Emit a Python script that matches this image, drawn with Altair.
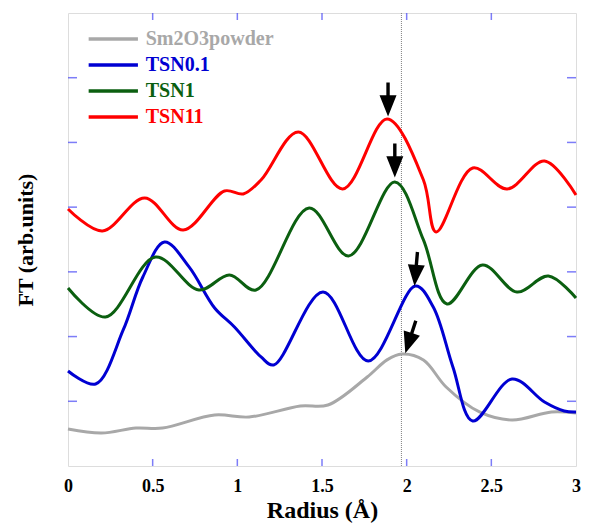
import altair as alt
import pandas as pd

# ---------------- data ----------------
series_names = ["Sm2O3powder", "TSN0.1", "TSN1", "TSN11"]
series_colors = ["#a8a8a8", "#0000d2", "#0b5f10", "#ff0000"]

gray_x = [0.0, 0.198, 0.401, 0.558, 0.866, 1.070, 1.372, 1.535, 1.767, 1.884, 1.971, 2.099, 2.233, 2.430, 2.622, 2.855, 3.0]
gray_y = [0.572, 0.510, 0.587, 0.587, 0.788, 0.757, 0.927, 0.943, 1.376, 1.640, 1.731, 1.638, 1.221, 0.835, 0.711, 0.835, 0.819]

blue_x = [0.0, 0.163, 0.326, 0.442, 0.570, 0.715, 0.866, 0.983, 1.140, 1.215, 1.506, 1.773, 2.052, 2.157, 2.273, 2.390, 2.622, 2.814, 2.930, 3.0]
blue_y = [1.468, 1.267, 2.102, 2.921, 3.462, 3.076, 2.442, 2.148, 1.685, 1.561, 2.689, 1.623, 2.782, 2.457, 1.530, 0.696, 1.345, 0.989, 0.850, 0.835]

green_x = [0.0, 0.221, 0.517, 0.773, 0.953, 1.110, 1.424, 1.657, 1.930, 2.099, 2.238, 2.448, 2.651, 2.837, 3.0]
green_y = [2.751, 2.303, 3.230, 2.720, 2.952, 2.720, 3.988, 3.246, 4.389, 3.493, 2.504, 3.107, 2.689, 2.937, 2.597]

red_x = [0.0, 0.203, 0.453, 0.680, 0.924, 1.035, 1.140, 1.360, 1.622, 1.884, 2.099, 2.174, 2.390, 2.593, 2.814, 3.0]
red_y = [3.972, 3.632, 4.142, 3.648, 4.250, 4.204, 4.420, 5.162, 4.281, 5.363, 4.420, 3.617, 4.606, 4.281, 4.714, 4.189]

# arrows (centre of each arrow in data units) and their tilt
arrow_x = [1.890, 1.930, 2.055, 2.023]
arrow_y = [5.665, 4.722, 3.045, 1.994]
arrow_angle = [0, 0, 5, 18]

ref_line_x = [1.969]

x_tick_values = [0, 0.5, 1, 1.5, 2, 2.5, 3]
x_inner_ticks = [0.5, 1, 1.5, 2, 2.5]
y_inner_ticks = [1, 2, 3, 4, 5, 6]

# ---------------- build tables ----------------
rows = []
for name, xs, ys in zip(series_names,
                        [gray_x, blue_x, green_x, red_x],
                        [gray_y, blue_y, green_y, red_y]):
    for i, (xv, yv) in enumerate(zip(xs, ys)):
        rows.append({"series": name, "x": xv, "y": yv, "order": i})
curves = pd.DataFrame(rows)

arrows = pd.DataFrame({"x": arrow_x, "y": arrow_y, "angle": arrow_angle})
vline = pd.DataFrame({"x": ref_line_x})

leg_top, leg_step = 6.60, 0.402
legend = pd.DataFrame({
    "series": series_names,
    "x": [0.122] * 4,
    "x2": [0.413] * 4,
    "tx": [0.459] * 4,
    "y": [leg_top - i * leg_step for i in range(4)],
})

AXIS_BLUE = "#4646f5"
FONT = "Liberation Serif"

xscale = alt.Scale(domain=[0, 3], nice=False, zero=False)
yscale = alt.Scale(domain=[0, 7], nice=False, zero=False)

xaxis = alt.Axis(values=x_tick_values, format="~g", domain=False, ticks=False, tickSize=0,
                 grid=False, labelFont=FONT, labelFontWeight="bold", labelFontSize=18,
                 labelColor="black", labelPadding=11, labelFlush=False,
                 title="Radius (Å)", titleFont=FONT, titleFontWeight="bold",
                 titleFontSize=24, titleColor="black", titlePadding=3)
yaxis = alt.Axis(domain=False, ticks=False, tickSize=0, labels=False, grid=False,
                 title="FT (arb.units)", titleFont=FONT, titleFontWeight="bold",
                 titleFontSize=22, titleColor="black", titlePadding=31)

X = alt.X("x:Q", scale=xscale, axis=xaxis)
Y = alt.Y("y:Q", scale=yscale, axis=yaxis)

color_scale = alt.Scale(domain=series_names, range=series_colors)

ref = alt.Chart(vline).mark_rule(color="#808080", strokeWidth=1, strokeDash=[1, 1]).encode(x=X)

lines = alt.Chart(curves).mark_line(interpolate="catmull-rom", strokeWidth=3).encode(
    x=X, y=Y,
    color=alt.Color("series:N", scale=color_scale, legend=None, sort=series_names),
    order="order:Q",
    detail="series:N",
)

arrow_path = "M-0.1,-1L0.1,-1L0.1,-0.24L0.5,-0.24L0,1L-0.5,-0.24L-0.1,-0.24Z"
arrow_layer = alt.Chart(arrows).mark_point(shape=arrow_path, filled=True, color="black",
                                           opacity=1, size=1156, strokeWidth=0).encode(
    x=X, y=Y, angle=alt.Angle("angle:Q", scale=None))

def tick_layer(df, orient, size, **offs):
    return alt.Chart(df).mark_tick(orient=orient, size=size, thickness=1.5,
                                   color=AXIS_BLUE, **offs).encode(x=X, y=Y)

bottom_ticks = tick_layer(pd.DataFrame({"x": x_inner_ticks, "y": 0}), "vertical", 7, yOffset=-3.5)
top_ticks = tick_layer(pd.DataFrame({"x": x_inner_ticks, "y": 7}), "vertical", 7, yOffset=3.5)
left_ticks = tick_layer(pd.DataFrame({"x": 0, "y": y_inner_ticks}), "horizontal", 9, xOffset=4.5)
right_ticks = tick_layer(pd.DataFrame({"x": 3, "y": y_inner_ticks}), "horizontal", 9, xOffset=-4.5)

leg_lines = alt.Chart(legend).mark_rule(strokeWidth=3.5).encode(
    x=X, x2="x2:Q", y=Y,
    color=alt.Color("series:N", scale=color_scale, legend=None))
leg_text = alt.Chart(legend).mark_text(align="left", baseline="middle", font=FONT,
                                        fontWeight="bold", fontSize=20).encode(
    x=alt.X("tx:Q", scale=xscale, axis=xaxis), y=Y, text="series:N",
    color=alt.Color("series:N", scale=color_scale, legend=None))

chart = alt.layer(
    ref, lines, arrow_layer, bottom_ticks, top_ticks, left_ticks, right_ticks,
    leg_lines, leg_text
).properties(
    width=508, height=453,
    autosize=alt.AutoSizeParams(type="none"),
    padding={"left": 60, "top": 5, "right": 5, "bottom": 58},
).configure_view(stroke=AXIS_BLUE, strokeWidth=1.5).configure(background="white")

chart.save("out.html", embed_options={"renderer": "svg", "actions": False})
